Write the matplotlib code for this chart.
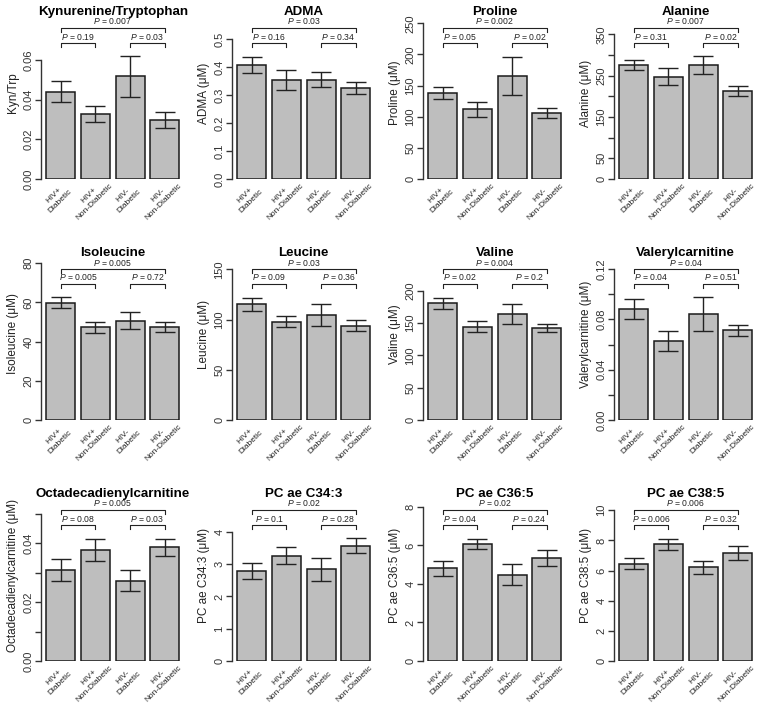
import numpy as np
import matplotlib
matplotlib.use("Agg")
import matplotlib.pyplot as plt
import matplotlib.transforms as mtransforms

plt.rcParams["font.family"] = ["Liberation Sans", "DejaVu Sans"]
plt.rcParams["mathtext.fontset"] = "custom"
plt.rcParams["mathtext.it"] = "Liberation Sans:italic"
plt.rcParams["mathtext.rm"] = "Liberation Sans"

groups = ["HIV+\nDiabetic", "HIV+\nNon-Diabetic", "HIV-\nDiabetic", "HIV-\nNon-Diabetic"]

titles = ["Kynurenine/Tryptophan", "ADMA", "Proline", "Alanine",
          "Isoleucine", "Leucine", "Valine", "Valerylcarnitine",
          "Octadecadienylcarnitine", "PC ae C34:3", "PC ae C36:5", "PC ae C38:5"]

ylabels = ["Kyn/Trp", "ADMA (\u03bcM)", "Proline (\u03bcM)", "Alanine (\u03bcM)",
           "Isoleucine (\u03bcM)", "Leucine (\u03bcM)", "Valine (\u03bcM)",
           "Valerylcarnitine (\u03bcM)", "Octadecadienylcarnitine (\u03bcM)",
           "PC ae C34:3 (\u03bcM)", "PC ae C36:5 (\u03bcM)", "PC ae C38:5 (\u03bcM)"]

means = [
    [0.044, 0.0328, 0.0517, 0.0298],
    [0.407, 0.354, 0.354, 0.326],
    [137.6, 112.2, 165.9, 105.5],
    [275.8, 247.5, 275.8, 213.6],
    [59.8, 47.3, 50.7, 47.3],
    [115.2, 97.9, 104.6, 93.9],
    [180.9, 144.7, 164.6, 142.8],
    [0.088, 0.063, 0.0842, 0.0713],
    [0.0309, 0.0376, 0.0272, 0.0385],
    [2.80, 3.26, 2.84, 3.57],
    [4.81, 6.08, 4.49, 5.33],
    [6.46, 7.75, 6.21, 7.19],
]

sems = [
    [0.0054, 0.004, 0.0101, 0.0039],
    [0.030, 0.035, 0.027, 0.022],
    [9.6, 12.0, 30.7, 8.0],
    [12.0, 20.0, 21.0, 12.5],
    [2.8, 2.7, 4.3, 2.6],
    [6.7, 5.5, 10.6, 5.5],
    [9.0, 9.0, 15.2, 6.7],
    [0.008, 0.0078, 0.0133, 0.0044],
    [0.0037, 0.0038, 0.0035, 0.003],
    [0.245, 0.26, 0.35, 0.235],
    [0.39, 0.28, 0.56, 0.41],
    [0.375, 0.365, 0.42, 0.47],
]

# p-values: [HIV+D vs HIV-ND, HIV+D vs HIV+ND, HIV-D vs HIV-ND]
p_values = [
    ["0.007", "0.19", "0.03"],
    ["0.03", "0.16", "0.34"],
    ["0.002", "0.05", "0.02"],
    ["0.007", "0.31", "0.02"],
    ["0.005", "0.005", "0.72"],
    ["0.03", "0.09", "0.36"],
    ["0.004", "0.02", "0.2"],
    ["0.04", "0.04", "0.51"],
    ["0.005", "0.08", "0.03"],
    ["0.02", "0.1", "0.28"],
    ["0.02", "0.04", "0.24"],
    ["0.006", "0.006", "0.32"],
]

y_ticks = [
    [0, 0.02, 0.04, 0.06],
    [0, 0.1, 0.2, 0.3, 0.4, 0.5],
    [0, 50, 100, 150, 200, 250],
    [0, 50, 100, 150, 200, 250, 300, 350],
    [0, 20, 40, 60, 80],
    [0, 50, 100, 150],
    [0, 50, 100, 150, 200],
    [0, 0.02, 0.04, 0.06, 0.08, 0.10, 0.12],
    [0, 0.01, 0.02, 0.03, 0.04, 0.05],
    [0, 1, 2, 3, 4],
    [0, 2, 4, 6, 8],
    [0, 2, 4, 6, 8, 10],
]

y_ticklabels = [
    ["0.00", "0.02", "0.04", "0.06"],
    ["0.0", "0.1", "0.2", "0.3", "0.4", "0.5"],
    ["0", "50", "100", "150", "200", "250"],
    ["0", "50", "", "150", "", "250", "", "350"],
    ["0", "20", "40", "60", "80"],
    ["0", "50", "100", "150"],
    ["0", "50", "100", "150", "200"],
    ["0.00", "", "0.04", "", "0.08", "", "0.12"],
    ["0.00", "", "0.02", "", "0.04", ""],
    ["0", "1", "2", "3", "4"],
    ["0", "2", "4", "6", "8"],
    ["0", "2", "4", "6", "8", "10"],
]

# value at the top of each plot region
y_top = [0.0812, 0.575, 258.5, 389.5, 82.2, 160.3, 249.6, 0.128, 0.0546, 4.99, 8.36, 10.68]

# layout in pixels
FIG_W, FIG_H = 758, 703
col_left = [41, 232, 423, 614]
row_zero = [179, 420, 661]
ax_w, ax_h = 143.6, 161.0

bar_x = 0.7 + 1.2 * np.arange(4)

fig = plt.figure(figsize=(FIG_W / 100, FIG_H / 100), dpi=100)

for i in range(12):
    r, c = divmod(i, 4)
    ax = fig.add_axes([col_left[c] / FIG_W, (FIG_H - row_zero[r]) / FIG_H,
                       ax_w / FIG_W, ax_h / FIG_H])
    ax.bar(bar_x, means[i], width=1.0, color="#bebebe", edgecolor="#1a1a1a",
           linewidth=1.1, zorder=2)
    ax.errorbar(bar_x, means[i], yerr=sems[i], fmt="none", ecolor="#222222",
                elinewidth=1.0, capsize=7.5, capthick=1.0, zorder=3)
    ax.set_xlim(0.016, 4.984)
    ax.set_ylim(0, y_top[i])

    for s in ["top", "right", "bottom"]:
        ax.spines[s].set_visible(False)
    ax.spines["left"].set_bounds(y_ticks[i][0], y_ticks[i][-1])
    ax.spines["left"].set_linewidth(1.0)
    ax.spines["left"].set_color("#333333")
    ax.set_xticks([])
    ax.set_yticks(y_ticks[i])
    ax.set_yticklabels(y_ticklabels[i], rotation=90, va="center", fontsize=8,
                       color="#333333")
    ax.tick_params(axis="y", length=4, width=1.0, pad=1.5, color="#333333")

    ax.set_ylabel(ylabels[i], fontsize=8.5, color="#222222")
    ax.yaxis.set_label_coords(-22 / ax_w, 86 / ax_h)
    ax.set_title(titles[i], fontsize=9.6, fontweight="bold", pad=0)
    ax.title.set_position((0.5, 164 / ax_h))

    # group labels, rotated and centred under each bar
    for j, g in enumerate(groups):
        ax.annotate(g, xy=(bar_x[j], 0), xycoords=("data", "axes fraction"),
                    xytext=(-2.8, -14.0), textcoords="offset points",
                    rotation=45, ha="center", va="center", rotation_mode="anchor",
                    multialignment="center", fontsize=6.0, linespacing=1.3,
                    color="#222222", annotation_clip=False)

    trans = mtransforms.blended_transform_factory(ax.transData, ax.transAxes)
    brackets = [(0, 3, 151), (0, 1, 136), (2, 3, 136)]
    for k, (a, b, h) in enumerate(brackets):
        y1 = h / ax_h
        y0 = (h - 4) / ax_h
        ax.plot([bar_x[a], bar_x[a], bar_x[b], bar_x[b]], [y0, y1, y1, y0],
                transform=trans, color="#222222", lw=0.8, clip_on=False)
        ax.text((bar_x[a] + bar_x[b]) / 2, y1 + 1.5 / ax_h,
                r"$\it{P}$ = " + p_values[i][k], transform=trans,
                ha="center", va="bottom", fontsize=6.2, color="#222222")

fig.savefig("out.png", dpi=100)
